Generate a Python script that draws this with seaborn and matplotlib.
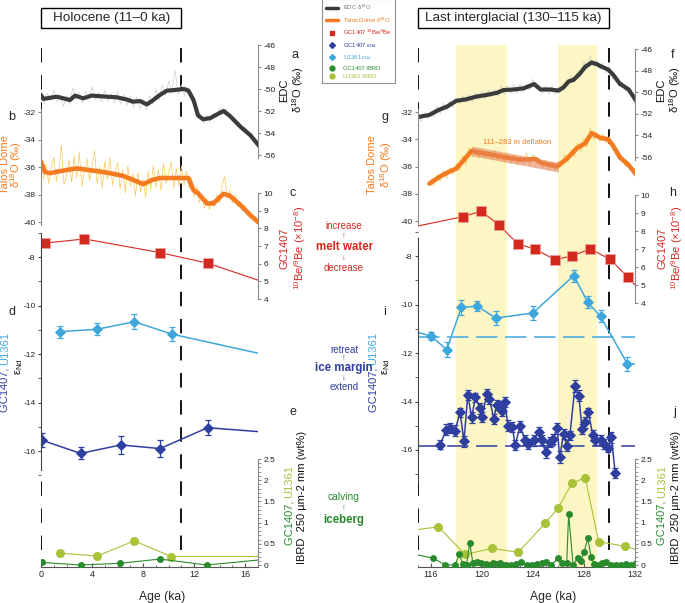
import matplotlib
matplotlib.use('Agg')
import matplotlib.pyplot as plt
import matplotlib.transforms as mtransforms
import numpy as np
import seaborn as sns
from matplotlib.patches import Rectangle
from matplotlib.lines import Line2D

sns.set_style('ticks')
plt.rcParams['font.family'] = ['Liberation Sans', 'DejaVu Sans']
plt.rcParams['mathtext.fontset'] = 'custom'
plt.rcParams['mathtext.rm'] = 'Liberation Sans'
plt.rcParams['mathtext.it'] = 'Liberation Sans:italic'
plt.rcParams['mathtext.bf'] = 'Liberation Sans:bold'
plt.rcParams['axes.unicode_minus'] = False

# ---------------- Holocene (left) ----------------
edc_age_h = [0, 0.18, 1.23, 2.27, 2.67, 3.3, 3.97, 5.15, 5.9, 6.7, 7.2, 7.76, 8.3, 8.8, 9.3,
             9.86, 10.4, 11.2, 11.55, 11.95, 12.3, 12.7, 13.25, 13.8, 14.3, 14.8, 15.6, 16.4, 17.1]
edc_h = [-50.55, -50.9, -50.7, -51.0, -50.6, -50.85, -50.6, -50.7, -50.75, -50.95, -51.15, -51.1,
         -51.4, -51.0, -50.55, -50.15, -50.1, -50.0, -50.15, -51.0, -52.4, -52.75, -52.65, -52.3,
         -52.0, -52.45, -53.4, -54.2, -55.2]
edc_raw_h = [-50.2, -51.3, -50.4, -51.1, -50.1, -51.2, -50.5, -51.6, -50.6, -51.4,
             -49.9, -51.0, -50.3, -51.3, -50.2, -50.9, -49.8, -51.0, -50.3, -51.2,
             -50.1, -51.1, -50.4, -51.3, -50.2, -51.4, -50.5, -51.5, -50.6, -51.7,
             -50.7, -51.8, -50.9, -51.9, -50.6, -51.4, -50.0, -51.0, -49.6, -50.6,
             -49.3, -50.4, -48.3, -50.5, -49.6, -50.6, -49.8, -51.0, -51.3, -52.1,
             -52.3, -53.1, -52.4, -53.0, -52.2, -52.6, -51.7, -52.3, -51.8, -52.6,
             -52.5, -53.2, -53.0, -53.8, -53.5, -54.2, -54.0, -54.9, -55.0]
talos_age_h = [0, 0.3, 0.7, 1.5, 2.8, 3.6, 4.4, 5.4, 6.45, 7.25, 8.0, 8.7, 9.3, 11.0, 11.55,
               11.95, 12.3, 13.0, 13.5, 14.3, 14.8, 15.6, 16.4, 17.0]
talos_h = [-35.6, -36.35, -36.45, -36.3, -36.1, -36.2, -36.3, -36.45, -36.65, -36.95, -37.25,
           -36.95, -36.8, -36.8, -36.8, -37.7, -37.9, -38.65, -38.65, -37.95, -38.1, -38.75,
           -39.5, -40.0]
talos_raw_h = [-35.0, -36.9, -35.8, -37.2, -36.0, -35.3, -37.0, -36.2, -34.4, -37.3,
               -36.6, -35.5, -37.1, -35.2, -36.8, -34.9, -37.4, -36.3, -35.4, -37.0,
               -35.9, -34.8, -37.2, -36.0, -37.5, -35.6, -36.9, -35.3, -37.3, -36.4,
               -35.7, -37.6, -36.2, -37.9, -35.9, -37.4, -36.5, -38.1, -36.4, -37.8,
               -36.9, -38.2, -36.3, -37.6, -35.9, -37.5, -36.2, -37.7, -35.7, -37.2,
               -36.4, -35.6, -37.5, -36.1, -37.4, -35.9, -37.3, -36.3, -37.5, -36.8,
               -38.2, -37.4, -38.6, -38.0, -39.0, -38.3, -39.1, -38.4, -38.9, -38.0,
               -38.6, -37.2, -36.7, -38.3, -37.7, -38.6, -38.0, -38.9, -38.5, -39.2,
               -38.8, -39.6, -39.3, -39.9, -39.6, -40.0]
be_age_h = [0.3, 3.4, 9.3, 13.05, 18.5]
be_h = [7.16, 7.4, 6.63, 6.03, 4.7]
u_nd_age_h = [1.5, 4.4, 7.3, 10.25, 19.0]
u_nd_h = [-11.08, -10.98, -10.67, -11.18, -12.2]
u_nd_err_h = [0.25, 0.25, 0.3, 0.3, 0.0]
gc_nd_age_h = [0.05, 3.1, 6.25, 9.33, 13.05, 19.0]
gc_nd_h = [-15.55, -16.1, -15.75, -15.9, -15.04, -15.28]
gc_nd_err_h = [0.28, 0.25, 0.37, 0.35, 0.3, 0.0]
u_ib_age_h = [1.5, 4.4, 7.3, 10.2, 19.0]
u_ib_h = [0.28, 0.21, 0.57, 0.2, 0.2]
gc_ib_age_h = [0.05, 3.1, 6.2, 9.3, 13.0, 18.5]
gc_ib_h = [0.06, 0.0, 0.04, 0.14, 0.0, 0.16]

# ---------------- Last interglacial (right) ----------------
edc_age_l = [115.0, 115.9, 116.6, 117.25, 118.0, 118.8, 119.6, 120.4, 121.2, 121.7, 122.5, 123.25,
             124.1, 124.6, 125.35, 126.0, 126.4, 126.8, 127.2, 127.7, 128.1, 128.6, 129.0, 129.4,
             129.9, 130.3, 130.8, 131.5, 132.15]
edc_l = [-52.3, -52.1, -51.65, -51.35, -50.8, -50.65, -50.4, -50.25, -50.05, -49.8, -49.75, -49.65,
         -49.25, -49.75, -49.75, -49.85, -49.55, -49.0, -48.85, -48.25, -47.65, -47.25, -47.4,
         -47.65, -47.9, -48.4, -49.2, -49.75, -50.9]
edc_raw_l = [-52.0, -52.7, -51.9, -52.5, -51.8, -52.3, -51.3, -52.0, -51.0, -51.7,
             -50.8, -51.4, -50.5, -51.1, -50.3, -51.0, -50.2, -50.9, -50.0, -50.7,
             -49.9, -50.6, -49.8, -50.5, -49.7, -50.4, -49.4, -50.2, -49.4, -50.1,
             -49.3, -50.1, -49.2, -50.0, -49.3, -49.8, -48.8, -49.6, -49.4, -50.1,
             -49.4, -50.2, -49.4, -50.2, -49.5, -49.9, -49.1, -49.4, -48.5, -49.1,
             -48.0, -48.6, -47.2, -47.9, -46.6, -47.6, -47.0, -47.9, -47.3, -48.2,
             -47.6, -48.7, -48.4, -49.5, -49.0, -49.9, -49.5, -50.3, -50.6]
talos_age_l = [115.9, 116.7, 117.4, 118.0, 118.7, 119.2, 119.9, 120.9, 121.95, 123.0, 124.2, 124.7,
               125.9, 126.7, 127.45, 128.1, 128.6, 129.3, 129.9, 130.3, 130.8, 131.5, 132.2]
talos_l = [-37.25, -36.75, -36.4, -36.15, -35.4, -34.85, -35.0, -35.15, -35.35, -35.5, -35.45,
           -35.75, -36.0, -35.4, -34.65, -34.3, -33.55, -33.9, -34.0, -34.5, -35.3, -35.9, -36.7]
talos_raw_l = [-37.0, -37.4, -36.6, -37.1, -36.3, -36.9, -36.1, -36.6, -35.8, -36.3,
               -35.2, -35.9, -34.6, -35.3, -34.7, -35.4, -34.7, -35.4, -34.9, -35.5,
               -34.8, -35.6, -35.0, -35.7, -35.0, -35.8, -35.1, -35.9, -35.2, -35.8,
               -35.0, -35.9, -35.1, -35.8, -35.4, -36.1, -35.5, -36.3, -35.7, -36.3,
               -35.6, -36.0, -35.1, -35.7, -34.8, -35.3, -34.3, -34.9, -33.9, -34.6,
               -33.2, -34.0, -33.5, -34.2, -33.6, -34.3, -33.8, -34.8, -34.6, -35.5,
               -35.3, -36.0, -35.7, -36.4, -36.5]
defl_age = [119.2, 126.0]
defl_top = [-34.5, -35.7]
defl_bot = [-35.2, -36.4]
be_age_l = [113.5, 118.55, 119.95, 121.35, 122.8, 124.2, 125.75, 127.1, 128.5, 130.05, 131.45, 132.6]
be_l = [8.06, 8.8, 9.1, 8.33, 7.3, 6.98, 6.4, 6.63, 7.0, 6.43, 5.43, 4.55]
u_nd_age_l = [114.0, 116.05, 117.25, 118.4, 119.65, 121.1, 124.0, 127.2, 128.3, 129.3, 131.4, 133.0]
u_nd_l = [-11.0, -11.31, -11.86, -10.12, -10.07, -10.56, -10.35, -8.81, -9.91, -10.49, -12.45, -12.45]
u_nd_err_l = [0.0, 0.17, 0.3, 0.3, 0.2, 0.3, 0.3, 0.25, 0.25, 0.25, 0.3, 0.0]
gc_nd_age_l = [116.75, 117.2, 117.5, 117.9, 118.3, 118.6, 118.9, 119.2, 119.5, 119.85,
               120.0, 120.4, 120.6, 120.95, 121.15, 121.5, 121.55, 121.8, 122.05, 122.4,
               122.6, 123.0, 123.4, 123.65, 124.05, 124.45, 124.7, 125.0, 125.35, 125.55,
               125.9, 126.1, 126.4, 126.65, 126.9, 127.3, 127.6, 127.85, 128.1, 128.35,
               128.7, 128.9, 129.3, 129.55, 129.9, 130.15, 130.45]
gc_nd_l = [-15.78, -15.16, -15.1, -15.2, -14.45, -15.64, -13.73, -14.65, -13.83, -14.28,
           -14.65, -13.69, -13.9, -14.72, -14.14, -14.17, -14.38, -14.03, -15.0, -15.06,
           -15.8, -15.03, -15.6, -15.75, -15.6, -15.27, -15.6, -16.1, -15.68, -15.55,
           -15.1, -16.3, -15.34, -15.82, -15.4, -13.35, -13.76, -15.13, -14.86, -14.45,
           -15.4, -15.6, -15.6, -15.75, -15.9, -15.48, -16.95]
gc_nd_err_l = [0.18, 0.22, 0.2, 0.22, 0.2, 0.22, 0.2, 0.22, 0.2, 0.22,
               0.2, 0.22, 0.2, 0.22, 0.2, 0.2, 0.22, 0.2, 0.22, 0.2,
               0.2, 0.22, 0.2, 0.2, 0.22, 0.22, 0.2, 0.22, 0.2, 0.2,
               0.22, 0.25, 0.2, 0.22, 0.2, 0.25, 0.22, 0.2, 0.22, 0.2,
               0.22, 0.2, 0.2, 0.22, 0.2, 0.22, 0.2]
u_nd_ref_l = -11.33
gc_nd_ref_l = -15.82
u_ib_age_l = [113.5, 116.6, 118.7, 120.8, 122.85, 124.95, 126.0, 127.05, 128.1, 129.15, 131.25, 132.8]
u_ib_l = [0.78, 0.9, 0.25, 0.39, 0.3, 0.98, 1.35, 1.93, 2.06, 0.55, 0.44, 0.3]
gc_ib_age_l = [114.0, 116.2, 117.15, 117.9, 118.25, 118.5, 118.8, 119.05, 119.3, 119.65,
               119.95, 120.3, 120.6, 120.9, 121.15, 121.4, 121.65, 121.9, 122.3, 122.7,
               123.1, 123.5, 123.9, 124.3, 124.7, 125.05, 125.45, 126.0, 126.3, 126.65,
               126.8, 127.15, 127.5, 127.75, 128.0, 128.3, 128.55, 128.8, 129.1, 129.4,
               129.75, 130.15, 130.55, 130.9, 131.3, 131.7, 132.1]
gc_ib_l = [0.3, 0.16, 0.0, 0.0, 0.26, 0.02, 0.0, 0.53, 0.04, 0.06,
           0.04, 0.02, 0.0, 0.04, 0.02, 0.04, 0.0, 0.0, 0.0, 0.02,
           0.08, 0.0, 0.0, 0.02, 0.04, 0.08, 0.0, 0.16, 0.04, 0.05,
           1.2, 0.0, 0.16, 0.1, 0.3, 0.63, 0.2, 0.02, 0.0, 0.04,
           0.06, 0.0, 0.0, 0.0, 0.02, 0.0, 0.04]
warm_bands = [(118, 122), (126, 129)]

# colours
c_edc = '#3b3b3b'
c_edc_raw = '#cfcfcf'
c_talos = '#f47b20'
c_talos_raw = '#f6c95a'
c_be = '#d3291f'
c_gcnd = '#2f3fa0'
c_unnd = '#3ea7dc'
c_gcib = '#2a8a2e'
c_unib = '#a8c23a'
c_band = '#fbf6c4'

W, H = 685, 603
TOP, BOT, PW = 45, 567, 217
fig = plt.figure(figsize=(6.85, 6.03), dpi=100)


def fx(X):
    return X / W


def fy(Y):
    return 1 - Y / H


def calib(cal):
    (v1, p1), (v2, p2) = cal
    s = (v2 - v1) / (p2 - p1)
    return (v1 + (BOT - p1) * s, v1 + (TOP - p1) * s)


finals = []


def y_axis(X0, xlim, side, cal, bounds, ticks, minor=None, color='#8a8a8a'):
    ax = fig.add_axes([fx(X0), fy(BOT), PW / W, (BOT - TOP) / H])
    ax.patch.set_visible(False)
    for k, sp in ax.spines.items():
        sp.set_visible(k == side)
    sp = ax.spines[side]
    sp.set_bounds(*bounds)
    sp.set_color(color)
    sp.set_linewidth(0.8)
    ax.yaxis.set_ticks_position(side)
    ax.set_yticks(ticks)
    ax.set_yticklabels([f'{t:g}' for t in ticks])
    if minor:
        ax.set_yticks(minor, minor=True)
    ax.tick_params(axis='y', which='major', direction='out', length=2.5, width=0.8,
                   color=color, labelsize=6.0, pad=1.5, labelcolor='#222222')
    ax.tick_params(axis='y', which='minor', direction='out', length=2, width=0.6, color=color)
    ax.tick_params(axis='x', which='both', bottom=False, top=False, labelbottom=False)
    finals.append((ax, xlim, calib(cal)))
    return ax


def base_axes(X0, xlim, xticks, dashes, bands):
    ax = fig.add_axes([fx(X0), fy(BOT), PW / W, (BOT - TOP) / H])
    for k in ['left', 'right', 'top']:
        ax.spines[k].set_visible(False)
    ax.spines['bottom'].set_color('#555555')
    ax.spines['bottom'].set_linewidth(0.8)
    ax.set_yticks([])
    ax.set_xticks(xticks)
    ax.set_xticks(range(int(xlim[0]), int(xlim[1]) + 1), minor=True)
    ax.tick_params(axis='x', which='major', direction='in', length=3, width=0.8,
                   labelsize=6.5, pad=2, color='#555555')
    ax.tick_params(axis='x', which='minor', direction='in', length=1.5, width=0.6, color='#555555')
    for a, b in bands:
        ax.axvspan(a, b, color=c_band, lw=0, zorder=0)
    for d in dashes:
        ax.axvline(d, ymin=0.033, ymax=1.0, color='k', lw=1.3, ls=(0, (8, 7)), zorder=1)
    finals.append((ax, xlim, (0, 1)))
    return ax


def series(ax, age, val, color, lw=1.0, marker=None, ms=5, mec=None, mew=0.6):
    kw = dict(color=color, lw=lw, ax=ax, sort=False, estimator=None, legend=False)
    if marker:
        kw.update(marker=marker, markersize=ms, markeredgecolor=mec or color, markeredgewidth=mew)
    sns.lineplot(x=age, y=val, **kw)


def raw_ages(a, b, vals):
    return list(np.linspace(a, b, len(vals)))


def vtext(X, Yc, parts, size, weight='normal'):
    r = fig.canvas.get_renderer()
    ts = [fig.text(fx(X), 0, s, color=c, rotation=90, ha='center', va='bottom',
                   fontsize=size, fontweight=weight) for s, c in parts]
    hs = [t.get_window_extent(r).height for t in ts]
    y = H - Yc - sum(hs) / 2
    for t, h in zip(ts, hs):
        t.set_position((fx(X), y / H))
        y += h


def draw_panel(X0, xlim, xticks, dashes, bands, cals, d):
    base = base_axes(X0, xlim, xticks, dashes, bands)
    a_edc = y_axis(X0, xlim, 'right', cals['edc'], (-56.3, -46), list(range(-56, -45, 2)))
    a_tal = y_axis(X0, xlim, 'left', cals['talos'], (-40.2, -31.8), list(range(-40, -31, 2)))
    a_be = y_axis(X0, xlim, 'right', cals['be'], (4, 10), list(range(4, 11)))
    a_nd = y_axis(X0, xlim, 'left', cals['nd'], cals['nd_bounds'], list(range(-16, -7, 2)),
                  minor=[-17, -15, -13, -11, -9, -7], color='#444444')
    a_ib = y_axis(X0, xlim, 'right', cals['ib'], (0, 2.5), [0, 0.5, 1, 1.5, 2, 2.5],
                  minor=[i / 10 for i in range(26)])

    series(a_edc, d['edc_raw_age'], d['edc_raw'], c_edc_raw, lw=0.5)
    series(a_edc, d['edc_age'], d['edc'], c_edc, lw=3.0)
    series(a_tal, d['talos_raw_age'], d['talos_raw'], c_talos_raw, lw=0.5)
    if 'defl' in d:
        a_tal.fill_between(d['defl'][0], d['defl'][1], d['defl'][2], color='#e5835c',
                           alpha=0.6, lw=0, zorder=3)
    series(a_tal, d['talos_age'], d['talos'], c_talos, lw=3.3)
    series(a_be, d['be_age'], d['be'], c_be, lw=0.8, marker='s', ms=6.5, mec='#f1a39d', mew=0.5)

    a_nd.errorbar(d['u_nd_age'], d['u_nd'], yerr=d['u_nd_err'], fmt='none', ecolor=c_unnd,
                  elinewidth=0.9, capsize=2, capthick=0.9)
    series(a_nd, d['u_nd_age'], d['u_nd'], c_unnd, lw=1.1, marker='D', ms=5.5)
    a_nd.errorbar(d['gc_nd_age'], d['gc_nd'], yerr=d['gc_nd_err'], fmt='none', ecolor=c_gcnd,
                  elinewidth=0.9, capsize=2, capthick=0.9)
    series(a_nd, d['gc_nd_age'], d['gc_nd'], c_gcnd, lw=1.1, marker='D', ms=5.5)
    if 'nd_refs' in d:
        for v, c in d['nd_refs']:
            a_nd.axhline(v, color=c, lw=1.1, ls=(0, (14, 5)))

    series(a_ib, d['u_ib_age'], d['u_ib'], c_unib, lw=0.8, marker='o', ms=6.5, mew=0)
    series(a_ib, d['gc_ib_age'], d['gc_ib'], c_gcib, lw=0.8, marker='o', ms=5, mew=0)
    return base


cal_h = {'edc': ((-46, 45), (-56, 155)), 'talos': ((-32, 112), (-40, 222)),
         'be': ((10, 193), (4, 299)), 'nd': ((-8, 257), (-16, 451)), 'nd_bounds': (-16.8, -7),
         'ib': ((0, 565), (2.5, 459))}
cal_l = {'edc': ((-46, 49), (-56, 157)), 'talos': ((-32, 112), (-40, 221)),
         'be': ((10, 195), (4, 303)), 'nd': ((-8, 256), (-16, 450)), 'nd_bounds': (-17.3, -7.3),
         'ib': ((0, 565), (2.5, 459))}

data_h = dict(edc_age=edc_age_h, edc=edc_h, edc_raw_age=raw_ages(0, 17, edc_raw_h), edc_raw=edc_raw_h,
              talos_age=talos_age_h, talos=talos_h, talos_raw_age=raw_ages(0, 17, talos_raw_h),
              talos_raw=talos_raw_h, be_age=be_age_h, be=be_h,
              u_nd_age=u_nd_age_h, u_nd=u_nd_h, u_nd_err=u_nd_err_h,
              gc_nd_age=gc_nd_age_h, gc_nd=gc_nd_h, gc_nd_err=gc_nd_err_h,
              u_ib_age=u_ib_age_h, u_ib=u_ib_h, gc_ib_age=gc_ib_age_h, gc_ib=gc_ib_h)
data_l = dict(edc_age=edc_age_l, edc=edc_l, edc_raw_age=raw_ages(115, 132, edc_raw_l), edc_raw=edc_raw_l,
              talos_age=talos_age_l, talos=talos_l, talos_raw_age=raw_ages(116, 132, talos_raw_l),
              talos_raw=talos_raw_l, defl=(defl_age, defl_top, defl_bot), be_age=be_age_l, be=be_l,
              u_nd_age=u_nd_age_l, u_nd=u_nd_l, u_nd_err=u_nd_err_l,
              gc_nd_age=gc_nd_age_l, gc_nd=gc_nd_l, gc_nd_err=gc_nd_err_l,
              nd_refs=[(u_nd_ref_l, c_unnd), (gc_nd_ref_l, c_gcnd)],
              u_ib_age=u_ib_age_l, u_ib=u_ib_l, gc_ib_age=gc_ib_age_l, gc_ib=gc_ib_l)

base_h = draw_panel(41, (0, 17), [0, 4, 8, 12, 16], [0, 11], [], cal_h, data_h)
base_l = draw_panel(418, (115, 132), [116, 120, 124, 128, 132], [115, 130], warm_bands, cal_l, data_l)

for ax, xl, yl in finals:
    ax.set_xlim(*xl)
    ax.set_ylim(*yl)

# deflation note
fig.text(fx(517), fy(142), '111–283 m deflation', color=c_talos, fontsize=5.5, ha='center', va='center')

# title boxes
for base, (a, b), title in [(base_h, (0, 11), 'Holocene (11–0 ka)'),
                            (base_l, (115, 130), 'Last interglacial (130–115 ka)')]:
    tr = mtransforms.blended_transform_factory(base.transData, fig.transFigure)
    fig.add_artist(Rectangle((a, fy(28)), b - a, 20 / H, transform=tr, fill=False,
                             edgecolor='k', lw=1.0))
    fig.text((a + b) / 2, fy(18), title, transform=tr, ha='center', va='center', fontsize=9.7)

# axis titles
for Xc in [162, 553]:
    fig.text(fx(Xc), fy(597), 'Age (ka)', ha='center', va='center', fontsize=8.7)

d18 = 'δ$^{18}$O (‰)'
lab_be = '$^{10}$Be/$^{9}$Be (×10$^{-8}$)'
FS = 8.0
for (xa, xb), (xt1, xt2), (xn1, xn2), (xi1, xi2) in [((284, 298), (5, 16.5), (5, 19), (289, 302)),
                                                     ((661, 675), (372, 386), (373, 386), (662, 676))]:
    vtext(xa, 90, [('EDC', '#111111')], FS)
    vtext(xb, 90, [(d18, '#111111')], FS)
    vtext(xt1, 165, [('Talos Dome', c_talos)], FS)
    vtext(xt2, 165, [(d18, c_talos)], FS)
    vtext(xa + 1, 248, [('GC1407', c_be)], FS)
    vtext(xb + 2, 248, [(lab_be, c_be)], FS)
    vtext(xn1, 372, [('GC1407, ', c_gcnd), ('U1361', c_unnd)], FS)
    vtext(xn2, 367, [('ε$_{\\rm Nd}$', '#111111')], FS)
    vtext(xi1, 505, [('GC1407, ', c_gcib), ('U1361', c_unib)], FS)
    vtext(xi2, 497, [('IBRD  250 µm-2 mm (wt%)', '#111111')], FS)

# panel letters
for s, X, Y in [('a', 295, 55), ('b', 12, 117), ('c', 293, 193), ('d', 12, 312), ('e', 293, 412),
                ('f', 673, 55), ('g', 385, 117), ('h', 673, 193), ('i', 385, 312), ('j', 675, 412)]:
    fig.text(fx(X), fy(Y), s, ha='center', va='center', fontsize=9)

# process annotations between panels
notes = [('increase', 226, c_be, 7, 'normal'), ('↑', 236, c_be, 5.5, 'normal'),
         ('melt water', 247, c_be, 8.3, 'bold'), ('↓', 258, c_be, 5.5, 'normal'),
         ('decrease', 268, c_be, 7, 'normal'),
         ('retreat', 350, c_gcnd, 7, 'normal'), ('↑', 359, c_gcnd, 5.5, 'normal'),
         ('ice margin', 368, c_gcnd, 8.3, 'bold'), ('↓', 378, c_gcnd, 5.5, 'normal'),
         ('extend', 387, c_gcnd, 7, 'normal'),
         ('calving', 497, c_gcib, 7.4, 'normal'), ('↑', 508, c_gcib, 5.5, 'normal'),
         ('iceberg', 520, c_gcib, 8.3, 'bold')]
for s, Y, c, fs, w in notes:
    fig.text(fx(344), fy(Y), s, color=c, ha='center', va='center', fontsize=fs, fontweight=w)

# legend
handles = [Line2D([], [], color=c_edc, lw=2.5),
           Line2D([], [], color=c_talos, lw=2.5),
           Line2D([], [], color=c_be, marker='s', ls='none', ms=3.5),
           Line2D([], [], color=c_gcnd, marker='D', ls='none', ms=3),
           Line2D([], [], color=c_unnd, marker='D', ls='none', ms=3),
           Line2D([], [], color=c_gcib, marker='o', ls='none', ms=3.5),
           Line2D([], [], color=c_unib, marker='o', ls='none', ms=3.5)]
labels = ['EDC δ$^{18}$O', 'Talos Dome δ$^{18}$O', 'GC1407 $^{10}$Be/$^{9}$Be',
          'GC1407 ε$_{\\rm Nd}$', 'U1361 ε$_{\\rm Nd}$', 'GC1407 IBRD', 'U1361 IBRD']
tcols = ['#777777', c_talos, c_be, c_gcnd, c_unnd, c_gcib, c_unib]
leg = fig.legend(handles, labels, loc='upper left', bbox_to_anchor=(fx(322), fy(-1)),
                 fontsize=4.2, frameon=True, fancybox=False, edgecolor='#777777',
                 labelspacing=0.6, handlelength=2.2, handletextpad=0.8, borderpad=0.6,
                 borderaxespad=0)
leg.get_frame().set_linewidth(0.8)
for t, c in zip(leg.get_texts(), tcols):
    t.set_color(c)

fig.savefig('out.png', dpi=100)
